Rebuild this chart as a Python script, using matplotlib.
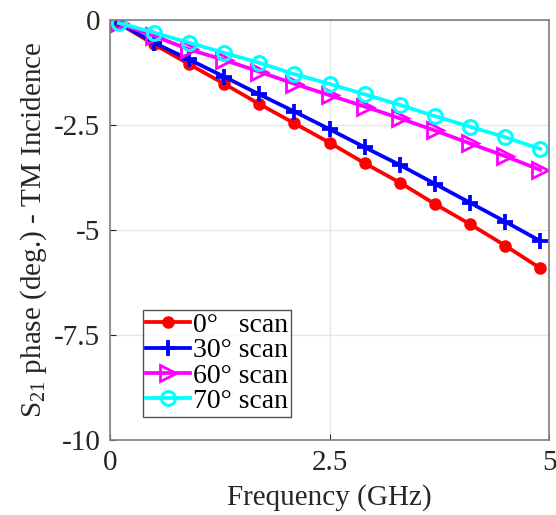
import matplotlib.pyplot as plt

freq = [0.1, 0.5, 0.9, 1.3, 1.7, 2.1, 2.5, 2.9, 3.3, 3.7, 4.1, 4.5, 4.9]
scan_0 = [-0.08, -0.58, -1.05, -1.52, -2.00, -2.46, -2.92, -3.41, -3.87, -4.38, -4.86, -5.37, -5.91]
scan_30 = [-0.07, -0.54, -0.94, -1.35, -1.77, -2.18, -2.60, -3.03, -3.45, -3.90, -4.35, -4.80, -5.26]
scan_60 = [-0.08, -0.38, -0.70, -0.95, -1.23, -1.52, -1.79, -2.06, -2.34, -2.63, -2.94, -3.24, -3.57]
scan_70 = [-0.07, -0.30, -0.54, -0.78, -1.02, -1.29, -1.52, -1.77, -2.02, -2.29, -2.54, -2.79, -3.07]
labels = ["0\u00b0   scan", "30\u00b0 scan", "60\u00b0 scan", "70\u00b0 scan"]

plt.rcParams['font.family'] = ['Liberation Serif', 'DejaVu Serif']
plt.rcParams['mathtext.fontset'] = 'custom'
plt.rcParams['mathtext.rm'] = 'Liberation Serif'

fig = plt.figure(figsize=(5.56, 5.15), dpi=100)
ax = fig.add_axes([110 / 556, 75 / 515, 439 / 556, 420 / 515])

lw = 2.7
ax.plot(freq, scan_0, "-o", color="#ff0000", mfc="#ff0000", ms=8, lw=lw, label=labels[0])
ax.plot(freq, scan_30, "-+", color="#0000ff", ms=12, mew=2.7, lw=lw, label=labels[1])
ax.plot(freq, scan_60, "->", color="#ff00ff", mfc="none", ms=11, mew=2, lw=lw, label=labels[2])
ax.plot(freq, scan_70, "-o", color="#00ffff", mfc="none", ms=10, mew=2.2, lw=lw, label=labels[3])

ax.set_xlim(0, 5)
ax.set_ylim(-10, 0)
ax.set_xticks([0, 2.5, 5])
ax.set_xticklabels(["0", "2.5", "5"])
ax.set_yticks([-10, -7.5, -5, -2.5, 0])
ax.set_yticklabels(["-10", "-7.5", "-5", "-2.5", "0"])
ax.tick_params(direction="in", length=4, labelsize=21, colors="#262626", pad=7)
ax.grid(True, color="#e6e6e6", lw=1)
for s in ax.spines.values():
    s.set_color("#7f7f7f")
    s.set_linewidth(1.2)

ax.set_xlabel("Frequency (GHz)", fontsize=21, color="#262626", labelpad=6)
ax.set_ylabel("S$_{21}$ phase (deg.) - TM Incidence", fontsize=21, color="#262626", labelpad=4)

leg = ax.legend(loc="lower left", bbox_to_anchor=(0.075, 0.055), fontsize=20,
                frameon=True, fancybox=False, edgecolor="#262626",
                handlelength=1.6, handletextpad=0.1, borderpad=0.1,
                labelspacing=0.0, borderaxespad=0)
leg.get_frame().set_linewidth(1)

plt.savefig("out.png")
